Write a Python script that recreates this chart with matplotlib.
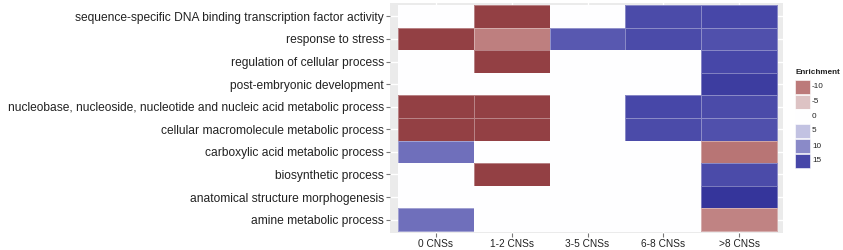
import matplotlib
matplotlib.use("Agg")
import matplotlib.pyplot as plt
import numpy as np
from matplotlib.colors import LinearSegmentedColormap
from matplotlib.patches import Rectangle

categories = [
    "sequence-specific DNA binding transcription factor activity",
    "response to stress",
    "regulation of cellular process",
    "post-embryonic development",
    "nucleobase, nucleoside, nucleotide and nucleic acid metabolic process",
    "cellular macromolecule metabolic process",
    "carboxylic acid metabolic process",
    "biosynthetic process",
    "anatomical structure morphogenesis",
    "amine metabolic process",
]
groups = ["0 CNSs", "1-2 CNSs", "3-5 CNSs", "6-8 CNSs", ">8 CNSs"]

cns0 = [0, -16, 0, 0, -16, -16, 12, 0, 0, 12]
cns1_2 = [-16, -9.6, -16, 0, -16, -16, 0, -16, 0, 0]
cns3_5 = [0, 13.7, 0, 0, 0, 0, 0, 0, 0, 0]
cns6_8 = [14.8, 14.8, 0, 0, 15, 14.8, 0, 0, 0, 0]
cns8p = [15, 14.3, 15, 16, 14.8, 14.3, -10.5, 14.8, 16.8, -9.3]

legend_values = [-10, -5, 0, 5, 10, 15]
legend_title = "Enrichment"

vmin, vmax = -16, 17
anchors = [(-16, "#934044"), (-10, "#BC7A7A"), (-5, "#DDC3C4"), (0, "#FFFFFF"),
           (5, "#C2C2E2"), (10, "#8A8AC8"), (15, "#4848A8"), (17, "#34349A")]
cmap = LinearSegmentedColormap.from_list(
    "enr", [((v - vmin) / (vmax - vmin), c) for v, c in anchors])

W, H = 843, 250
fig = plt.figure(figsize=(W / 100, H / 100), dpi=100)
plt.rcParams['font.family'] = ['Liberation Sans', 'DejaVu Sans']

ax = fig.add_axes([390 / W, 1 - 233 / H, (783 - 390) / W, (233 - 3) / H])
ax.set_facecolor("#EBEBEB")

data = np.array([cns0, cns1_2, cns3_5, cns6_8, cns8p]).T
nr, nc = data.shape
xe = np.arange(nc + 1) - 0.5
ye = np.arange(nr + 1) - 0.5
ax.pcolormesh(xe, ye, data, cmap=cmap, vmin=vmin, vmax=vmax,
              edgecolors=(1, 1, 1, 0.35), linewidth=0.5, zorder=2)

ax.set_xlim(-0.5 - 0.106, nc - 0.5 + 0.079)
ax.set_ylim(nr - 0.5 + 0.09, -0.5 - 0.09)
ax.set_xticks(range(nc))
ax.set_xticklabels(groups, fontsize=7.3, color="#222222")
ax.set_yticks(range(nr))
ax.set_yticklabels(categories, fontsize=8.65, color="#222222")
ax.tick_params(axis="both", length=3, width=0.8, color="#777777", pad=1.5)
ax.grid(True, color="white", linewidth=1.0, zorder=0)
ax.set_axisbelow(True)
for s in ax.spines.values():
    s.set_visible(False)

# legend
fig.text(796 / W, 1 - 72 / H, legend_title, fontsize=5.9, fontweight="bold",
         ha="left", va="center", color="#222222")
centers = [87, 102, 116, 131, 146, 161]
for v, cy in zip(legend_values, centers):
    fig.patches.append(Rectangle((795 / W, 1 - (cy + 7) / H), 15 / W, 14 / H,
                                 transform=fig.transFigure,
                                 facecolor=cmap((v - vmin) / (vmax - vmin)),
                                 edgecolor="white", linewidth=0.4))
    fig.text(812 / W, 1 - cy / H, str(v), fontsize=5.9, ha="left", va="center",
             color="#222222")

fig.savefig("out.png", dpi=100)
